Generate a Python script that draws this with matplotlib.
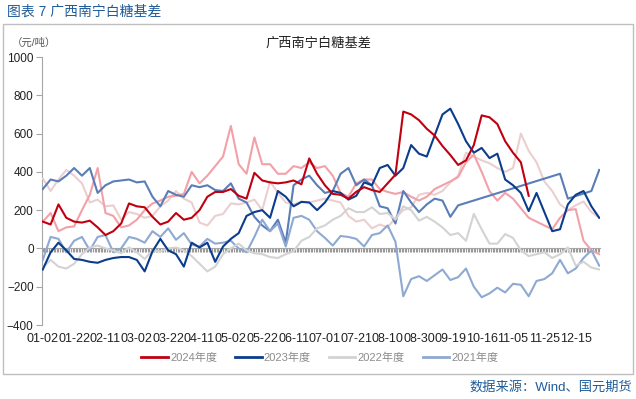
import numpy as np
import matplotlib
matplotlib.use("Agg")
import matplotlib.pyplot as plt
from matplotlib.patches import Rectangle
from matplotlib.lines import Line2D

plt.rcParams['font.family'] = ['Liberation Sans', 'Noto Sans CJK SC', 'DejaVu Sans']

# ----- Data (one value every 5 trading-day categories) -----
n_categories = 356
step = 5
date_labels = ['01-02', '01-22', '02-11', '03-02', '03-22', '04-11', '05-02', '05-22', '06-11',
               '07-01', '07-21', '08-10', '08-30', '09-19', '10-16', '11-05', '11-25', '12-15']
nan = np.nan

basis_2024 = [140, 125, 230, 160, 140, 135, 145, 110, 70, 90,
              130, 235, 220, 215, 165, 125, 140, 185, 150, 160,
              200, 270, 295, 295, 310, 275, 260, 395, 355, 345,
              340, 345, 355, 335, 470, 390, 330, 285, 280, 260,
              296, 320, 305, 295, 340, 385, 715, 700, 670, 625,
              590, 535, 488, 436, 460, 540, 695, 685, 650, 560,
              500, 450, 275]
basis_2023 = [-110, -20, 30, -10, -55, -60, -70, -75, -60, -50,
              -45, -45, -60, -120, -15, 50, -10, -30, -95, 30,
              5, 30, -70, 10, 50, 80, 170, 190, 200, 160,
              300, 270, 220, 243, 240, 200, 240, 300, 290, 255,
              275, 345, 330, 420, 436, 380, 420, 540, 495, 480,
              590, 700, 730, 650, 560, 500, 525, 472, 495, 360,
              330, 290, 195, 290, 190, 90, 100, 230, 280, 300,
              220, 160]
basis_2022 = [-100, -60, -95, -105, -80, -30, 5, 15, 0, -10,
              -25, 5, -20, -55, -10, -15, 0, 5, -10, -40,
              -80, -120, -95, -30, 0, 25, -10, -25, -30, -45,
              -50, -30, -15, 40, 60, 105, 120, 150, 170, 210,
              190, 190, 215, 180, 185, 150, 220, 200, 145, 165,
              140, 110, 70, 80, 40, 180, 100, 25, 25, 75,
              55, -10, -40, -30, -20, -50, -30, 5, -90, -70,
              -100, -110]
basis_2021 = [-60, 60, 50, -20, 40, 60, -10, 60, 70, -20,
              0, 60, 50, 30, 90, 60, 105, 45, 80, 20,
              10, 50, 25, 30, 40, 0, -20, 60, 150, 90,
              130, 10, 160, 170, 150, 90, 55, 15, 65, 60,
              50, 10, 70, 80, 120, 35, -250, -160, -145, -170,
              -140, -110, -165, -150, -105, -200, -255, -235, -205, -230,
              -185, -190, -250, -170, -160, -130, -60, -130, -105, -50,
              -10, -90]
# unlabeled seasons
basis_pink = [140, 185, 90, 110, 115, 200, 280, 420, 185, 170,
              110, 120, 150, 200, 235, 250, 270, 275, 285, 400,
              340, 380, 430, 480, 640, 440, 390, 580, 440, 440,
              390, 390, 430, 420, 450, 420, 430, 380, 290, 270,
              340, 360, 360, 310, 295, 285, 295, 270, 250, 270,
              310, 330, 350, 373, 450, 490, 400, 300, 250, 290,
              260, 210, 160, 140, 120, 100, 160, 200, 205, 40,
              -10, -30]
basis_lightpink = [365, 300, 360, 410, 380, 340, 240, 255, 220, 225,
                   150, 190, 180, 160, 170, 220, 250, 300, 260, 240,
                   135, 120, 170, 180, 235, 230, 240, 255, 200, 350,
                   290, 240, 230, 245, 240, 250, 260, 250, 240, 170,
                   140, 150, 105, 125, 110, 160, 200, 215, 280, 290,
                   280, 300, 345, 380, 500, 480, 460, 445, 420, 400,
                   420, 600, 510, 450, 350, 300, 230, 200, 225, 245,
                   190, 160]
basis_steel = [310, 360, 350, 380, 420, 380, 420, 290, 330, 350,
               355, 360, 345, 350, 270, 220, 300, 280, 270, 330,
               320, 330, 305, 300, 340, 260, 240, 165, 120, 90,
               150, 30, 330, 360, 380, 330, 290, 300, 390, 420,
               330, 360, 330, 220, 210, 130, 300, 240, 190, 230,
               260, 250, 165, 225, nan, nan, nan, nan, nan, nan,
               nan, nan, nan, nan, nan, nan, 390, 260, nan, nan,
               300, 410]

series = [
    (basis_lightpink, '#EBCFD0', None),
    (basis_pink, '#F2A1A8', None),
    (basis_steel, '#5A7DB8', None),
    (basis_2021, '#8EA9D2', '2021年度'),
    (basis_2022, '#D3D3D3', '2022年度'),
    (basis_2023, '#0B3D8C', '2023年度'),
    (basis_2024, '#C00010', '2024年度'),
]

# ----- Figure -----
fig = plt.figure(figsize=(6.36, 3.99), dpi=100)
W, H = 636, 399

fig.patches.append(Rectangle((3 / W, 1 - 374 / H), 630 / W, 350 / H, transform=fig.transFigure,
                             fill=False, edgecolor='#BFBFBF', linewidth=1.0))
fig.text(7 / W, 1 - 12 / H, '图表 7 广西南宁白糖基差', color='#1F5C99', fontsize=10, va='center')
fig.text(318 / W, 1 - 44 / H, '广西南宁白糖基差', fontsize=9.5, ha='center', va='center', color='#222222')
fig.text(12 / W, 1 - 43 / H, '（元/吨）', fontsize=7.5, va='center', color='#555555')
fig.text(632 / W, 1 - 387 / H, '数据来源：Wind、国元期货', color='#1F5C99', fontsize=9.5,
         ha='right', va='center')

ax = fig.add_axes([42 / W, 1 - 325 / H, 558 / W, 268 / H])

handles = {}
for values, color, label in series:
    y = np.array(values, dtype=float)
    x = np.arange(len(y)) * step
    ok = ~np.isnan(y)
    line, = ax.plot(x[ok], y[ok], color=color, linewidth=1.5, zorder=3)
    if label:
        handles[label] = line

ax.set_xlim(-0.5, n_categories - 0.5)
ax.set_ylim(-400, 1000)
ax.set_yticks(range(-400, 1001, 200))
ax.tick_params(axis='y', direction='out', length=4, color='#A6A6A6', labelsize=8.5, labelcolor='#222222', pad=2)

ax.spines['top'].set_visible(False)
ax.spines['right'].set_visible(False)
ax.spines['left'].set_color('#A6A6A6')
ax.spines['bottom'].set_position(('data', 0))
ax.spines['bottom'].set_color('#A6A6A6')
ax.set_xticks(np.arange(n_categories))
ax.tick_params(axis='x', direction='out', length=3, width=0.8, color='#9A9A9A', labelbottom=False)

for i, lab in enumerate(date_labels):
    ax.text(i * 20, -0.03, lab, transform=ax.get_xaxis_transform(), ha='center', va='top',
            fontsize=9, color='#222222')

order = ['2024年度', '2023年度', '2022年度', '2021年度']
leg = fig.legend([Line2D([], [], color=handles[k].get_color(), linewidth=2) for k in order], order,
                 loc='center', bbox_to_anchor=(320 / W, 1 - 358 / H), ncol=4, frameon=False,
                 fontsize=8, handlelength=2.4, handletextpad=0.2, columnspacing=1.6)
for t in leg.get_texts():
    t.set_color('#8C8C8C')

fig.savefig('out.png', dpi=100)
